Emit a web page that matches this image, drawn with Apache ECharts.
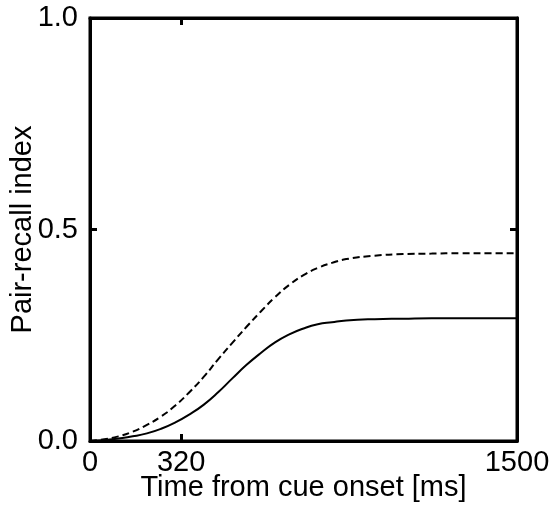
<!DOCTYPE html>
<html>
<head>
<meta charset="utf-8">
<script src="https://cdn.jsdelivr.net/npm/echarts@6/dist/echarts.min.js"></script>
<style>
  html, body { margin: 0; padding: 0; background: #fff; }
  #chart { width: 554px; height: 507px; }
</style>
</head>
<body>
<div id="chart"></div>
<script>
const times = [0, 50, 100, 150, 200, 250, 300, 350, 400, 450, 500, 550, 600, 650, 700, 750, 800, 850, 900, 1000, 1100, 1200, 1300, 1400, 1500]
const dashedValues = [0, 0.004, 0.011, 0.022, 0.038, 0.058, 0.084, 0.116, 0.152, 0.193, 0.232, 0.270, 0.306, 0.340, 0.369, 0.392, 0.409, 0.421, 0.430, 0.438, 0.442, 0.443, 0.444, 0.444, 0.444]
const solidValues = [0, 0.002, 0.006, 0.011, 0.018, 0.029, 0.044, 0.063, 0.086, 0.115, 0.148, 0.180, 0.208, 0.233, 0.252, 0.266, 0.276, 0.281, 0.285, 0.288, 0.289, 0.290, 0.290, 0.290, 0.290]
const xTicks = [0, 320, 1500]

const font = '"Liberation Sans", Arial, sans-serif'
const pair = vals => times.map((t, i) => [t, vals[i]])

const tick = () => ({ show: true, inside: true, length: 7, lineStyle: { color: '#000', width: 3 } })
const line = () => ({ show: true, onZero: false, lineStyle: { color: '#000', width: 3 } })

const myChart = echarts.init(document.querySelector('#chart'))
myChart.setOption({
    animation: false,
    grid: {
        left: 90, right: 37, top: 18, bottom: 66,
        containLabel: false,
        outerBoundsMode: 'none',
        show: true, borderColor: '#000', borderWidth: 3, backgroundColor: 'transparent'
    },
    xAxis: [{
        type: 'value',
        position: 'bottom',
        min: 0,
        max: 1500,
        name: 'Time from cue onset [ms]',
        nameLocation: 'middle',
        nameGap: 32,
        nameMoveOverlap: false,
        nameTextStyle: { color: '#000', fontSize: 29, fontFamily: font },
        axisLine: line(),
        axisTick: Object.assign(tick(), { customValues: xTicks }),
        axisLabel: { customValues: xTicks, inside: false, color: '#000', fontSize: 29, fontFamily: font, margin: 7, formatter: v => String(v) },
        splitLine: { show: false }
    }, {
        type: 'value',
        position: 'top',
        min: 0,
        max: 1500,
        axisLine: line(),
        axisTick: Object.assign(tick(), { customValues: xTicks }),
        axisLabel: { show: false },
        splitLine: { show: false }
    }],
    yAxis: [{
        type: 'value',
        position: 'left',
        min: 0,
        max: 1,
        interval: 0.5,
        name: 'Pair-recall index',
        nameLocation: 'middle',
        nameGap: 53,
        nameMoveOverlap: false,
        nameTextStyle: { color: '#000', fontSize: 29, fontFamily: font },
        axisLine: line(),
        axisTick: tick(),
        axisLabel: { inside: false, color: '#000', fontSize: 29, fontFamily: font, margin: 12, formatter: v => v.toFixed(1) },
        splitLine: { show: false }
    }, {
        type: 'value',
        position: 'right',
        min: 0,
        max: 1,
        interval: 0.5,
        axisLine: line(),
        axisTick: tick(),
        axisLabel: { show: false },
        splitLine: { show: false }
    }],
    series: [
        {
            name: 'dashed',
            type: 'line',
            smooth: 0.5,
            symbol: 'none',
            data: pair(dashedValues),
            lineStyle: { color: '#000', width: 2, type: [7, 4] }
        },
        {
            name: 'solid',
            type: 'line',
            smooth: 0.5,
            symbol: 'none',
            data: pair(solidValues),
            lineStyle: { color: '#000', width: 2 }
        }
    ]
})
</script>
</body>
</html>
